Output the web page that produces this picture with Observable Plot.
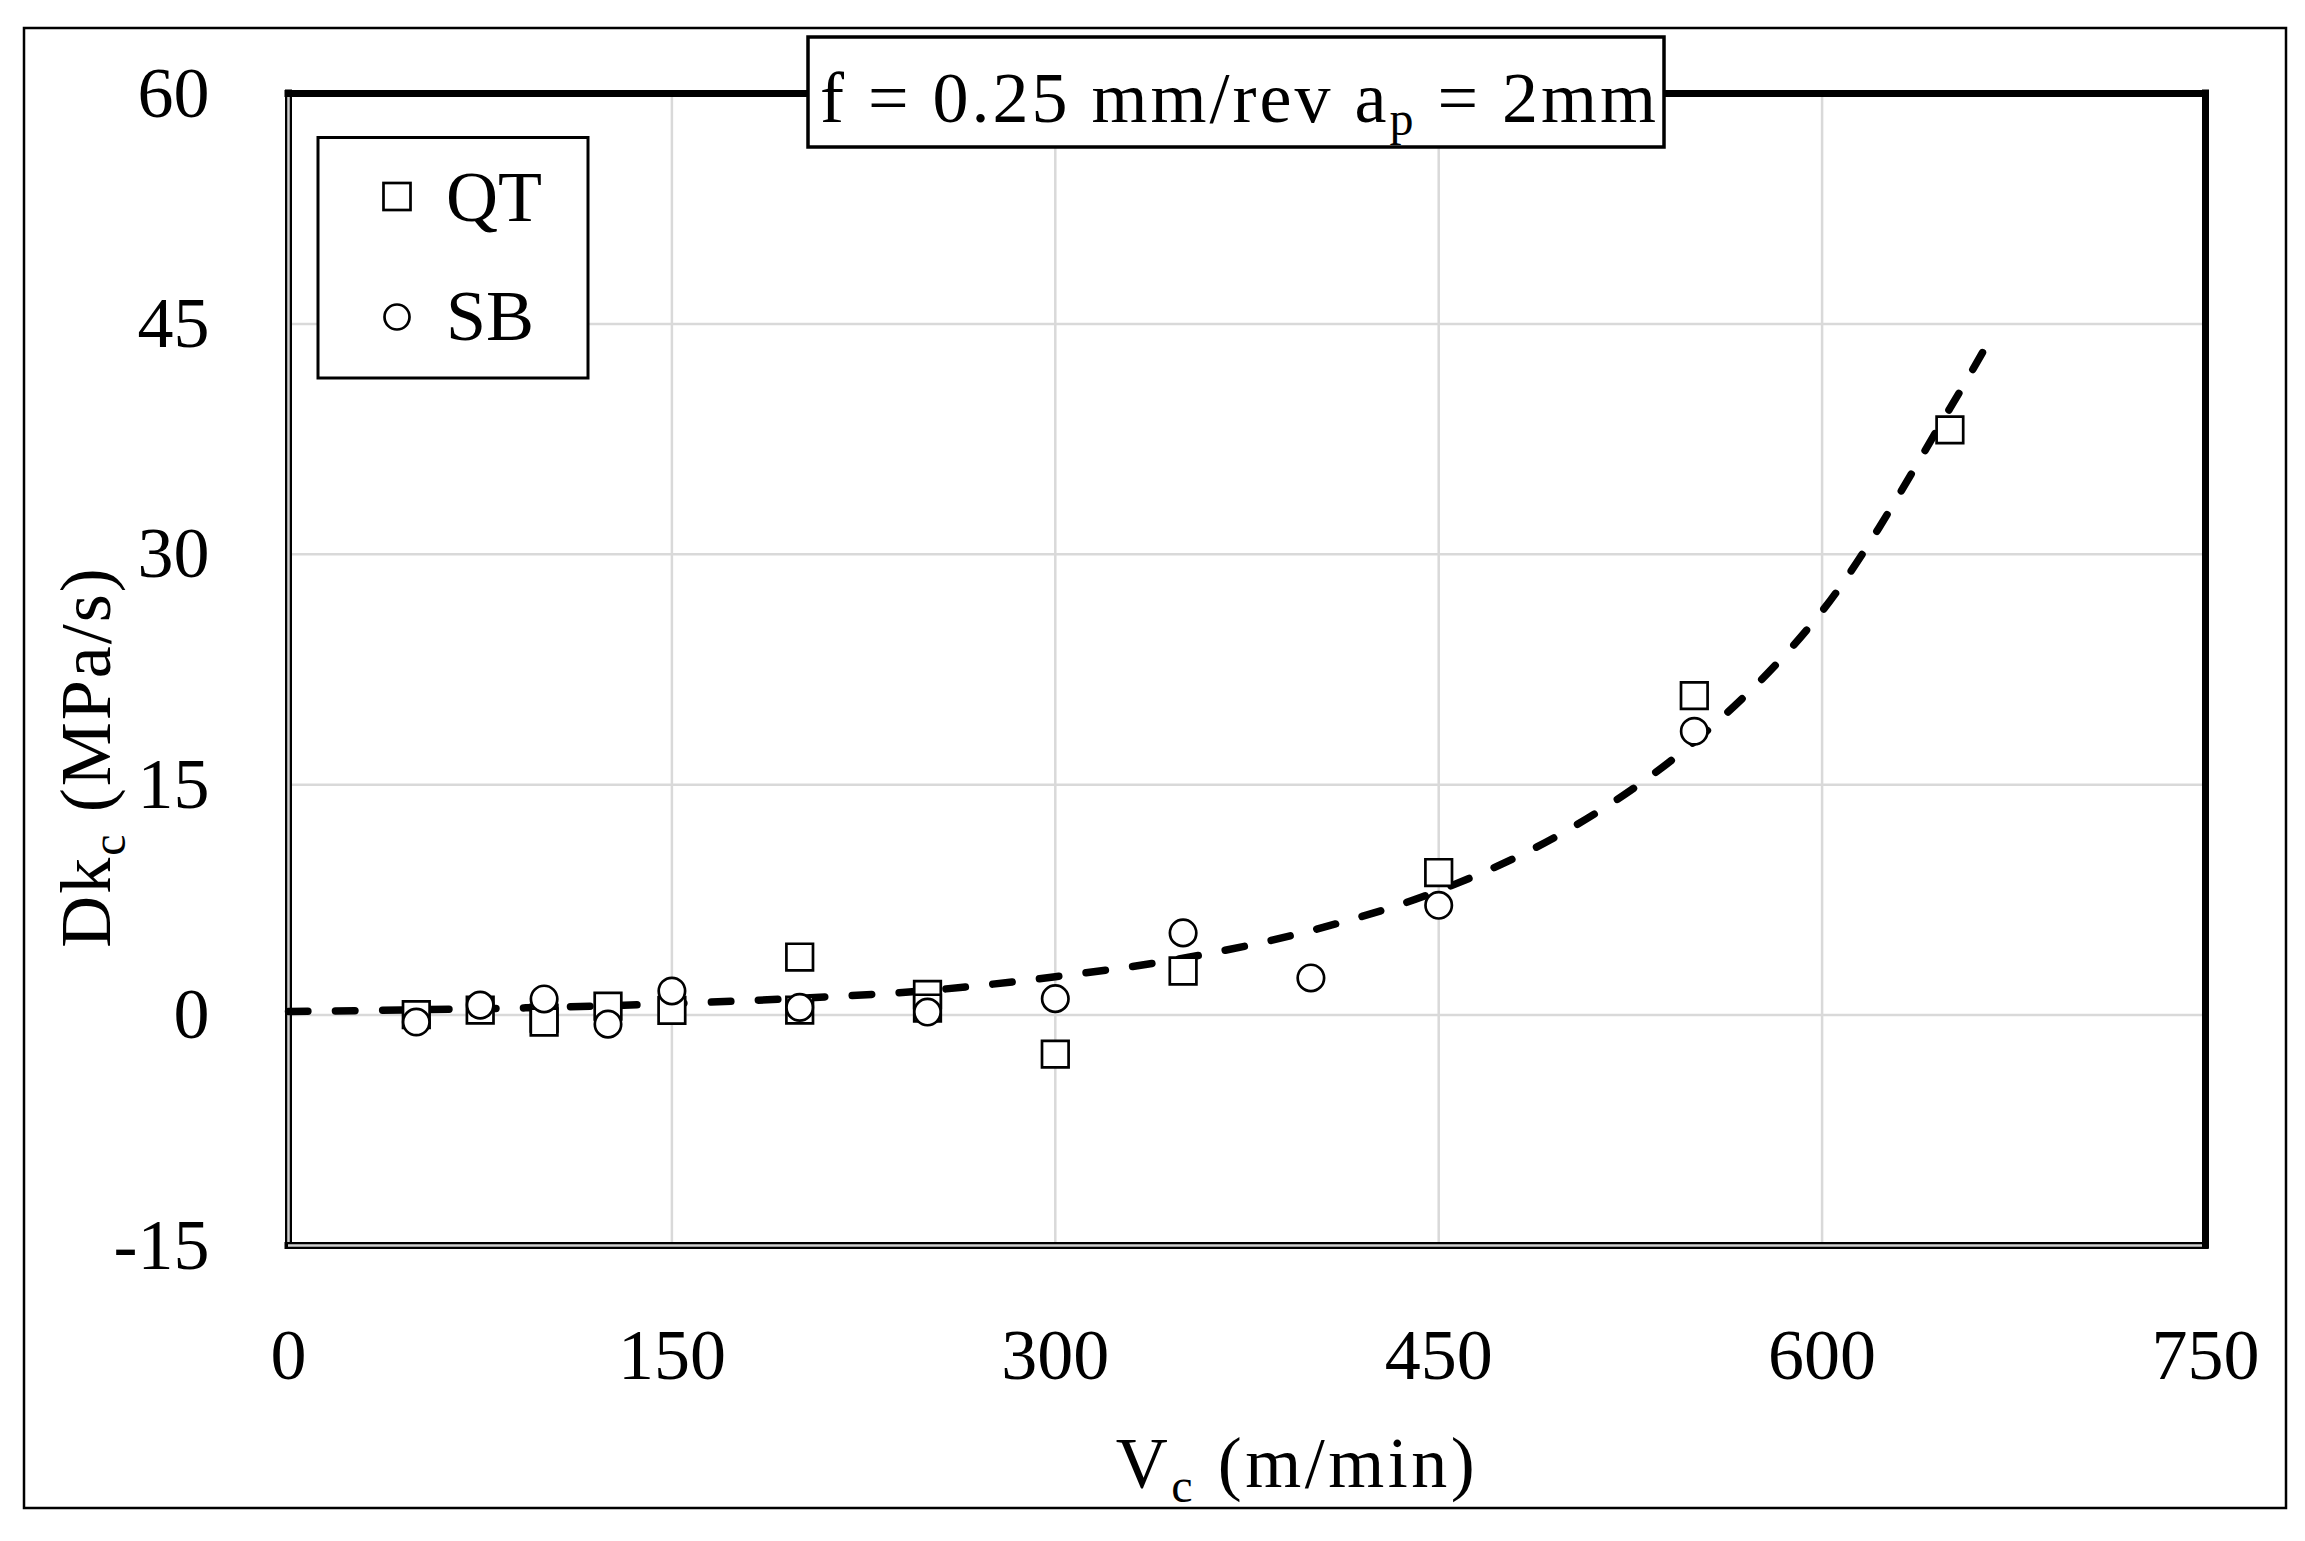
<!DOCTYPE html>
<html>
<head>
<meta charset="utf-8">
<script src="https://cdn.jsdelivr.net/npm/d3@7"></script>
<script src="https://cdn.jsdelivr.net/npm/@observablehq/plot@0.6"></script>
<style>
  html, body { margin: 0; padding: 0; background: white; overflow: hidden; }
</style>
</head>
<body>
<div id="chart"></div>
<script>
// ---- data ----
const xDomain = [0, 750];
const yDomain = [-15, 60];
const xTicks = [0, 150, 300, 450, 600, 750];
const yTicks = [-15, 0, 15, 30, 45, 60];
const xGrid = [150, 300, 450, 600];
const yGrid = [0, 15, 30, 45];

// QT (squares)
const vQT  = [50, 75, 100, 100, 125, 150, 200, 200, 250, 250, 300, 350, 450, 550, 650];
const dkQT = [0.03, 0.33, -0.2, -0.45, 0.58, 0.31, 3.78, 0.33, 1.34, 0.46, -2.54, 2.87, 9.28, 20.8, 38.1];

// SB (circles)
const vSB  = [50, 75, 100, 125, 150, 200, 250, 300, 350, 400, 450, 550];
const dkSB = [-0.45, 0.65, 1.05, -0.59, 1.57, 0.5, 0.2, 1.07, 5.35, 2.42, 7.15, 18.48];

// dashed trend line
const vFit  = [0, 50, 100, 150, 200, 250, 300, 350, 400, 450, 500, 550, 600, 650, 664];
const dkFit = [0.23, 0.35, 0.5, 0.75, 1.1, 1.6, 2.5, 3.7, 5.5, 8.1, 12.0, 17.8, 26.3, 39.5, 43.5];

const titleMain = "f = 0.25 mm/rev a";
const titleSub = "p";
const titleEnd = " = 2mm";
const seriesNames = ["QT", "SB"];

// ---- tables ----
const qt = vQT.map((v, i) => ({v, dk: dkQT[i]}));
const sb = vSB.map((v, i) => ({v, dk: dkSB[i]}));
const fit = vFit.map((v, i) => ({v, dk: dkFit[i]}));

const FONT = '"Liberation Serif", "Times New Roman", serif';

const chart = Plot.plot({
  width: 2305,
  height: 1541,
  marginLeft: 288,
  marginRight: 100,
  marginTop: 93,
  marginBottom: 296,
  style: {fontFamily: FONT, fontSize: "72px", background: "white", color: "black", overflow: "visible"},
  x: {domain: xDomain, ticks: xTicks, tickSize: 0, tickPadding: 82, label: null, tickFormat: d => String(d)},
  y: {domain: yDomain, ticks: yTicks, tickSize: 0, tickPadding: 79, label: null, tickFormat: d => String(d)},
  marks: [
    Plot.ruleX(xGrid, {stroke: "#d9d9d9", strokeWidth: 2.5}),
    Plot.ruleY(yGrid, {stroke: "#d9d9d9", strokeWidth: 2.5}),
    // left / bottom double frame lines
    Plot.ruleX([xDomain[0]], {stroke: "black", strokeWidth: 7, strokeLinecap: "square"}),
    Plot.ruleX([xDomain[0]], {stroke: "#d0d0d0", strokeWidth: 2.5}),
    Plot.ruleY([yDomain[0]], {stroke: "black", strokeWidth: 7, strokeLinecap: "square"}),
    Plot.ruleY([yDomain[0]], {stroke: "#d0d0d0", strokeWidth: 2.5}),
    // top / right thick frame lines
    Plot.ruleY([yDomain[1]], {stroke: "black", strokeWidth: 7, strokeLinecap: "square"}),
    Plot.ruleX([xDomain[1]], {stroke: "black", strokeWidth: 7, strokeLinecap: "square"}),
    // trend
    Plot.line(fit, {x: "v", y: "dk", curve: "catmull-rom", stroke: "black", strokeWidth: 7.5,
      strokeDasharray: "19.5,27.5", strokeLinecap: "round"}),
    // data
    Plot.dot(qt, {x: "v", y: "dk", symbol: "square", r: 15, fill: "white", stroke: "black", strokeWidth: 2.7}),
    Plot.dot(sb, {x: "v", y: "dk", symbol: "circle", r: 13.2, fill: "white", stroke: "black", strokeWidth: 2.7})
  ]
});

document.getElementById("chart").appendChild(chart);

// ---- annotations ----
const svg = d3.select(chart);

// outer border
svg.append("rect")
  .attr("x", 24).attr("y", 28).attr("width", 2262).attr("height", 1480)
  .attr("fill", "none").attr("stroke", "black").attr("stroke-width", 2.5);

// title box
const tg = svg.append("g").attr("text-anchor", "start");
tg.append("rect")
  .attr("x", 808).attr("y", 37).attr("width", 856).attr("height", 110)
  .attr("fill", "white").attr("stroke", "black").attr("stroke-width", 3.5);
const tt = tg.append("text")
  .attr("x", 820).attr("y", 122).attr("text-anchor", "start")
  .attr("font-size", 72).attr("letter-spacing", "3px").attr("fill", "black");
tt.append("tspan").text(titleMain);
tt.append("tspan").attr("dy", 13).attr("font-size", 48).text(titleSub);
tt.append("tspan").attr("dy", -13).text(titleEnd);

// legend
const lg = svg.append("g").attr("text-anchor", "start");
lg.append("rect")
  .attr("x", 318).attr("y", 137.5).attr("width", 270).attr("height", 240.5)
  .attr("fill", "white").attr("stroke", "black").attr("stroke-width", 3);
lg.append("rect")
  .attr("x", 397 - 13.5).attr("y", 196.5 - 13.5).attr("width", 27).attr("height", 27)
  .attr("fill", "white").attr("stroke", "black").attr("stroke-width", 2.7);
lg.append("circle")
  .attr("cx", 397).attr("cy", 317).attr("r", 12.5)
  .attr("fill", "white").attr("stroke", "black").attr("stroke-width", 2.7);
lg.append("text").attr("x", 446).attr("y", 221).attr("text-anchor", "start")
  .attr("font-size", 72).attr("fill", "black").text(seriesNames[0]);
lg.append("text").attr("x", 446).attr("y", 340).attr("text-anchor", "start")
  .attr("font-size", 72).attr("fill", "black").text(seriesNames[1]);

// y label
const yl = svg.append("text")
  .attr("transform", "translate(110,757) rotate(-90)")
  .attr("text-anchor", "middle").attr("font-size", 72).attr("letter-spacing", "2px").attr("fill", "black");
yl.append("tspan").text("Dk");
yl.append("tspan").attr("dy", 15).attr("font-size", 48).text("c");
yl.append("tspan").attr("dy", -15).text(" (MPa/s)");

// x label
const xl = svg.append("text")
  .attr("x", 1297).attr("y", 1487)
  .attr("text-anchor", "middle").attr("font-size", 72).attr("letter-spacing", "3.5px").attr("fill", "black");
xl.append("tspan").text("V");
xl.append("tspan").attr("dy", 15).attr("font-size", 48).text("c");
xl.append("tspan").attr("dy", -15).text(" (m/min)");
</script>
</body>
</html>
